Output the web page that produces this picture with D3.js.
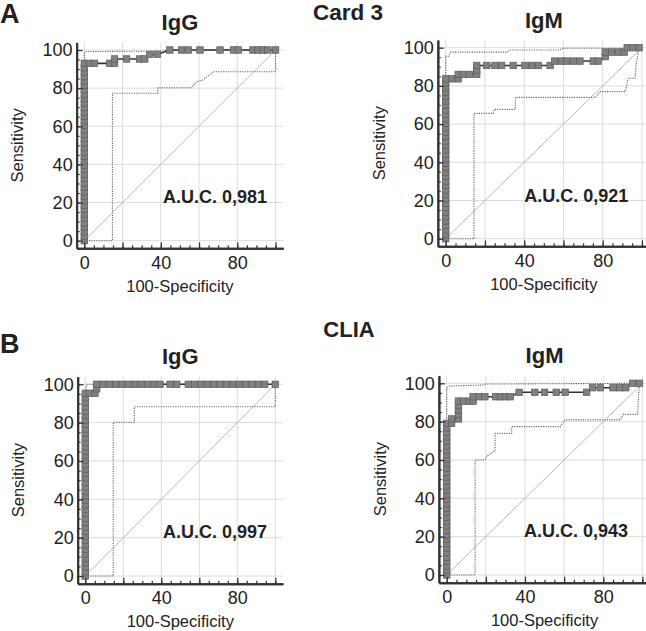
<!DOCTYPE html>
<html><head><meta charset="utf-8">
<script src="https://cdn.jsdelivr.net/npm/d3@7/dist/d3.min.js"></script>
<style>
body{margin:0;background:#fff}
text{font-family:Arial,"Liberation Sans",Helvetica,sans-serif;fill:#222}
</style></head>
<body><svg id="c" width="646" height="631"></svg>
<script>
// ---------- DATA ----------
const yTicks = [0,20,40,60,80,100];
const xTicks = [0,20,40,60,80,100];
const xTickLabels = ["0","","40","","80",""];
const minorTicks = [0,5,10,15,20,25,30,35,40,45,50,55,60,65,70,75,80,85,90,95,100];

// Card 3 IgG
const card3IgGStack = [0,2.3,4.7,7.0,9.3,11.6,14.0,16.3,18.6,20.9,23.3,25.6,27.9,30.2,32.6,34.9,37.2,39.5,41.9,44.2,46.5,48.8,51.2,53.5,55.8,58.1,60.5,62.8,65.1,67.4,69.8,72.1,74.4,76.7,79.1,81.4,83.7,86.0,88.4,90.7,93.0];
const card3IgGFpr = [2.6,5.3,13.2,15.8,15.8,22.1,28.9,31.6,34.2,38.2,44.7,50.9,54.4,60.5,71.0,78.0,80.5,88.2,90.8,93.4,96.0,100];
const card3IgGTpr = [93.0,93.0,93.0,93.0,95.3,95.3,95.3,95.3,97.7,97.7,100,100,100,100,100,100,100,100,100,100,100,100];
const card3IgGUpX = [0,0,1,40,45,100];
const card3IgGUpY = [0,98.5,99.2,99.4,100,100];
const card3IgGLoX = [0,14.7,14.7,38.5,38.5,56,58.8,62,67.5,100,100];
const card3IgGLoY = [0,0,77.3,77.3,80.2,80.2,83.4,84.3,88.6,88.6,100];

// Card 3 IgM
const card3IgMStack = [0,2.3,4.7,7.0,9.3,11.6,14.0,16.3,18.6,20.9,23.3,25.6,27.9,30.2,32.6,34.9,37.2,39.5,41.9,44.2,46.5,48.8,51.2,53.5,55.8,58.1,60.5,62.8,65.1,67.4,69.8,72.1,74.4,76.7,79.1,81.4,83.7];
const card3IgMFpr = [3.0,6.4,6.4,9.0,12.0,15.8,15.8,15.8,20.9,25.1,28.5,34.4,40.4,43.8,47.2,53.2,55.5,59.1,61.6,65.0,68.4,75.2,77.7,81.3,81.3,84.5,88.0,91.0,92.5,95.5,98.5];
const card3IgMTpr = [83.7,83.7,86.0,86.0,86.0,86.0,88.4,90.7,90.7,90.7,90.7,90.7,90.7,90.7,90.7,90.7,93.0,93.0,93.0,93.0,93.0,93.0,93.0,95.3,97.7,97.7,97.7,97.7,100,100,100];
const card3IgMUpX = [0,0,1.5,2.5,31,33,58,60,97,100];
const card3IgMUpY = [0,95.5,95.5,97.7,97.7,98.8,98.8,99.7,99.7,100];
const card3IgMLoX = [0,14.4,14.4,24.3,24.8,35.5,35.5,76.5,78.5,91.5,93,96.5,97,98.5,100];
const card3IgMLoY = [0,0,65.6,65.6,67.7,67.7,74.0,74.0,77.0,77.0,84,84,91,100,100];

// CLIA IgG
const cliaIgGStack = [0,2.3,4.7,7.0,9.3,11.6,14.0,16.3,18.6,20.9,23.3,25.6,27.9,30.2,32.6,34.9,37.2,39.5,41.9,44.2,46.5,48.8,51.2,53.5,55.8,58.1,60.5,62.8,65.1,67.4,69.8,72.1,74.4,76.7,79.1,81.4,83.7,86.0,88.4,90.7,93.0,95.3];
const cliaIgGFpr = [2.1,5.1,6.0,6.0,9.4,12.7,16.0,19.4,22.7,26.0,29.4,32.7,36.0,39.3,44.6,48.1,54.2,57.6,60.9,64.3,67.6,71.0,74.3,77.7,81.0,84.4,87.7,91.1,94.4,100];
const cliaIgGTpr = [95.3,95.3,97.7,100,100,100,100,100,100,100,100,100,100,100,100,100,100,100,100,100,100,100,100,100,100,100,100,100,100,100];
const cliaIgGUpX = [0,0,1,100];
const cliaIgGUpY = [0,97.5,100,100];
const cliaIgGLoX = [0,14.7,14.7,25.8,25.8,100,100];
const cliaIgGLoY = [0,0,80.2,80.2,88.3,88.3,100];

// CLIA IgM
const cliaIgMStack = [0,2.3,4.7,7.0,9.3,11.6,14.0,16.3,18.6,20.9,23.3,25.6,27.9,30.2,32.6,34.9,37.2,39.5,41.9,44.2,46.5,48.8,51.2,53.5,55.8,58.1,60.5,62.8,65.1,67.4,69.8,72.1,74.4,76.7,79.1];
const cliaIgMFpr = [2.5,2.5,6,6,6,6,6,8.5,11.5,13.5,13.5,16.5,19.5,25,27.5,30,32.5,37,45,50,56,60.5,71.5,74.5,78.5,85,88.5,91.5,95,98.5];
const cliaIgMTpr = [79.1,81.4,81.4,83.7,86.0,88.4,90.7,90.7,90.7,90.7,93.0,93.0,93.0,93.0,93.0,93.0,93.0,95.3,95.3,95.3,95.3,95.3,95.3,97.7,97.7,97.7,97.7,97.7,100,100];
const cliaIgMUpX = [0,0,1.5,18,20,100];
const cliaIgMUpY = [0,97.5,98.6,99.1,99.6,100];
const cliaIgMLoX = [0,14.5,14.5,19.6,20.5,24.2,24.7,24.7,33.2,33.2,58,60.5,88.6,90.3,97.5,98.5,100];
const cliaIgMLoY = [0,0,60,60,62,64.5,64.5,73.9,73.9,77.4,77.4,80.9,80.9,83.8,83.8,100,100];

const aucLabels = ["A.U.C. 0,981","A.U.C. 0,921","A.U.C. 0,997","A.U.C. 0,943"];
const panelTitles = ["IgG","IgM","IgG","IgM"];

// ---------- LAYOUT ----------
const svg = d3.select("#c");
const panels = [
  {x0:84.3, px:1.9125, y0:240.7, py:1.907, stack:card3IgGStack, fpr:card3IgGFpr, tpr:card3IgGTpr, upX:card3IgGUpX, upY:card3IgGUpY, loX:card3IgGLoX, loY:card3IgGLoY, aucX:95.5, aucY:19.8},
  {x0:445.7, px:1.9625, y0:238.7, py:1.91, stack:card3IgMStack, fpr:card3IgMFpr, tpr:card3IgMTpr, upX:card3IgMUpX, upY:card3IgMUpY, loX:card3IgMLoX, loY:card3IgMLoY, aucX:93.0, aucY:19.3},
  {x0:85.3, px:1.9, y0:576, py:1.917, stack:cliaIgGStack, fpr:cliaIgGFpr, tpr:cliaIgGTpr, upX:cliaIgGUpX, upY:cliaIgGUpY, loX:cliaIgGLoX, loY:cliaIgGLoY, aucX:95.6, aucY:19.8},
  {x0:446.7, px:1.957, y0:575, py:1.917, stack:cliaIgMStack, fpr:cliaIgMFpr, tpr:cliaIgMTpr, upX:cliaIgMUpX, upY:cliaIgMUpY, loX:cliaIgMLoX, loY:cliaIgMLoY, aucX:92.7, aucY:20.0}
];

panels.forEach((p,i)=>{
  const x = d3.scaleLinear().domain([-4,104]).range([p.x0-4*p.px, p.x0+104*p.px]);
  const y = d3.scaleLinear().domain([-4,104]).range([p.y0+4*p.py, p.y0-104*p.py]);
  const g = svg.append("g");

  // gridlines
  g.selectAll(".gx").data(xTicks).enter().append("line")
    .attr("x1",d=>x(d)).attr("x2",d=>x(d)).attr("y1",y(-4)).attr("y2",y(104))
    .attr("stroke","#dcdcdc").attr("stroke-width",1);
  g.selectAll(".gy").data(yTicks).enter().append("line")
    .attr("y1",d=>y(d)).attr("y2",d=>y(d)).attr("x1",x(-4)).attr("x2",x(104))
    .attr("stroke","#dcdcdc").attr("stroke-width",1);

  // diagonal
  g.append("line").attr("x1",x(0)).attr("y1",y(0)).attr("x2",x(100)).attr("y2",y(100))
    .attr("stroke","#b0b0b0").attr("stroke-width",0.9);

  const line = d3.line().x(d=>x(d[0])).y(d=>y(d[1]));
  // confidence bands
  [[p.upX,p.upY],[p.loX,p.loY]].forEach(([bx,by])=>{
    g.append("path").datum(bx.map((v,k)=>[v,by[k]]))
      .attr("d",line).attr("fill","none").attr("stroke","#666")
      .attr("stroke-width",1.1).attr("stroke-dasharray","1.2,1.2");
  });

  // ROC curve
  const pts = p.stack.map(v=>[0,v]).concat(p.fpr.map((v,k)=>[v,p.tpr[k]]));
  g.append("path").datum(pts).attr("d",line).attr("fill","none")
    .attr("stroke","#333").attr("stroke-width",1.6);
  const s = 6.5;
  g.selectAll(".pt").data(pts).enter().append("rect")
    .attr("x",d=>x(d[0])-s/2).attr("y",d=>y(d[1])-s/2).attr("width",s).attr("height",s)
    .attr("fill","#808080").attr("stroke","#5c5c5c").attr("stroke-width",0.7);

  // axes (ticks inward)
  const ax = g.append("g").attr("transform",`translate(0,${y(-4)})`)
    .call(d3.axisBottom(x).tickValues(xTicks).tickSizeInner(-6).tickSizeOuter(0).tickPadding(8)
      .tickFormat((d,k)=>xTickLabels[k]));
  const axm = g.append("g").attr("transform",`translate(0,${y(-4)})`)
    .call(d3.axisBottom(x).tickValues(minorTicks).tickSizeInner(-3).tickSizeOuter(0).tickFormat(""));
  const ay = g.append("g").attr("transform",`translate(${x(-4)},0)`)
    .call(d3.axisLeft(y).tickValues(yTicks).tickSizeInner(-6).tickSizeOuter(0).tickPadding(4));
  const aym = g.append("g").attr("transform",`translate(${x(-4)},0)`)
    .call(d3.axisLeft(y).tickValues(minorTicks).tickSizeInner(-3).tickSizeOuter(0).tickFormat(""));
  [ax,axm,ay,aym].forEach(a=>{
    a.select(".domain").attr("stroke","#333").attr("stroke-width",2);
    a.selectAll(".tick line").attr("stroke","#333").attr("stroke-width",1.2);
    a.selectAll(".tick text").attr("fill","#1a1a1a").style("font-size","18px")
      .style("font-family","Arial,'Liberation Sans',sans-serif");
  });

  // axis titles
  g.append("text").attr("transform",`translate(${x(0)-61},${y(50)}) rotate(-90)`)
    .attr("text-anchor","middle").style("font-size","16.5px").text("Sensitivity");
  g.append("text").attr("x",x(50)).attr("y",y(0)+51).attr("text-anchor","middle")
    .style("font-size","16.5px").text("100-Specificity");

  // panel title
  g.append("text").attr("x",x(50)).attr("y",y(100)-20).attr("text-anchor","middle")
    .style("font-size","22px").style("font-weight","bold").text(panelTitles[i]);

  // AUC
  g.append("text").attr("x",x(p.aucX)).attr("y",y(p.aucY)).attr("text-anchor","end")
    .style("font-size","18px").style("font-weight","bold").attr("fill","#333").text(aucLabels[i]);
});

// section labels
svg.append("text").attr("x",0).attr("y",23).style("font-size","27px").style("font-weight","bold").text("A");
svg.append("text").attr("x",0).attr("y",353).style("font-size","27px").style("font-weight","bold").text("B");
svg.append("text").attr("x",348).attr("y",20).attr("text-anchor","middle").style("font-size","22.5px").style("font-weight","bold").attr("fill","#333").text("Card 3");
svg.append("text").attr("x",349).attr("y",337).attr("text-anchor","middle").style("font-size","22px").style("font-weight","bold").attr("fill","#333").text("CLIA");
</script>
</body></html>
